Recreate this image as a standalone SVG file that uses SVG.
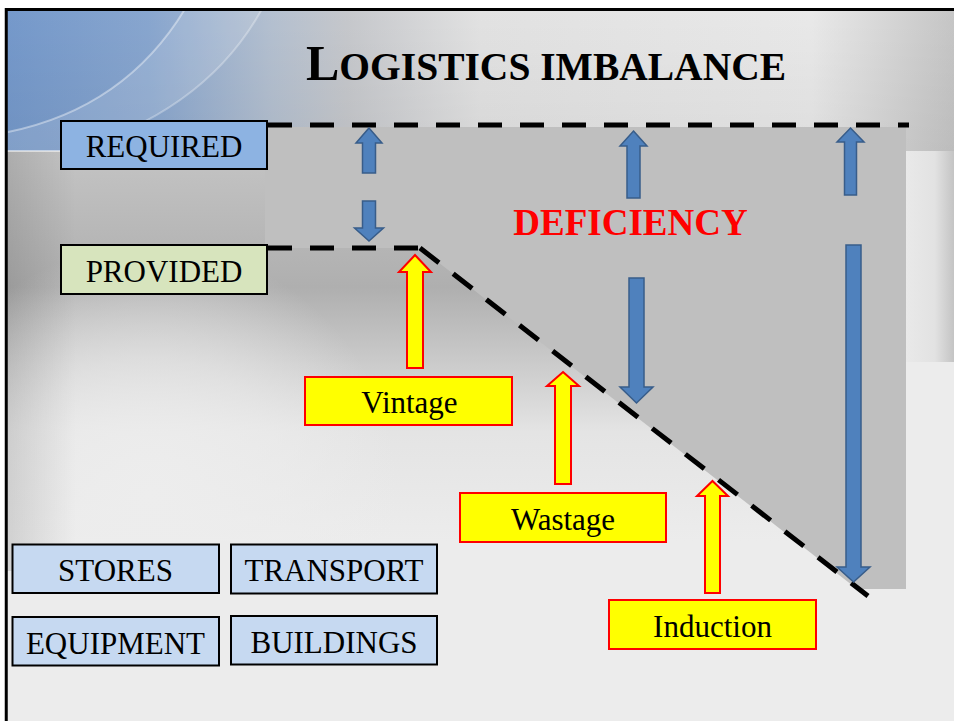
<svg xmlns="http://www.w3.org/2000/svg" width="954" height="721" viewBox="0 0 954 721">
<defs>
<linearGradient id="topBand" x1="0" y1="0" x2="1" y2="0">
<stop offset="0" stop-color="#7599cb"/>
<stop offset="0.15" stop-color="#88a6cf"/>
<stop offset="0.28" stop-color="#b4c0d0"/>
<stop offset="0.36" stop-color="#c6c8cc"/>
<stop offset="0.5" stop-color="#e2e2e2"/>
<stop offset="0.85" stop-color="#e9e9e9"/>
<stop offset="1" stop-color="#c6c6c6"/>
</linearGradient>
<linearGradient id="topShade" x1="0" y1="0" x2="0" y2="1">
<stop offset="0" stop-color="#000" stop-opacity="0"/>
<stop offset="1" stop-color="#000" stop-opacity="0.05"/>
</linearGradient>
<linearGradient id="midBand" x1="0" y1="0" x2="0" y2="1">
<stop offset="0" stop-color="#c4c4c4"/>
<stop offset="0.35" stop-color="#afafaf"/>
<stop offset="0.72" stop-color="#e4e4e4"/>
<stop offset="1" stop-color="#ececec"/>
</linearGradient>
<radialGradient id="glow" cx="150" cy="495" r="250" gradientUnits="userSpaceOnUse">
<stop offset="0" stop-color="#ededed" stop-opacity="1"/>
<stop offset="0.55" stop-color="#ededed" stop-opacity="0.55"/>
<stop offset="1" stop-color="#ededed" stop-opacity="0"/>
</radialGradient>
<linearGradient id="leftEdge" x1="0" y1="0" x2="1" y2="0">
<stop offset="0" stop-color="#000" stop-opacity="0.12"/>
<stop offset="1" stop-color="#000" stop-opacity="0"/>
</linearGradient>
<linearGradient id="rightStrip" x1="0" y1="0" x2="1" y2="0">
<stop offset="0" stop-color="#e9e9e9"/>
<stop offset="0.6" stop-color="#e2e2e2"/>
<stop offset="1" stop-color="#c4c4c4"/>
</linearGradient>
<style>
.lbl{font-family:"Liberation Serif","Times New Roman",serif;font-size:31px;fill:#000;text-anchor:middle}
.box{stroke:#000;stroke-width:2}
.blue{fill:#c6d9f1}
.ybox{fill:#ffff00;stroke:#ff0000;stroke-width:2}
.yarr{fill:#ffff00;stroke:#ff0000;stroke-width:2;stroke-linejoin:miter}
.barr{fill:#4f81bd;stroke:#385d8a;stroke-width:1.5}
.dash{fill:none;stroke:#000;stroke-width:5;stroke-dasharray:24 18}
</style>
</defs>
<g id="background">
<rect x="0" y="0" width="954" height="721" fill="#ffffff"/>
<rect x="6" y="9" width="948" height="712" fill="#ececec"/>
<rect x="6" y="151" width="900" height="390" fill="url(#midBand)"/>
<rect x="6" y="151" width="900" height="390" fill="url(#glow)"/>
<rect x="6" y="151" width="70" height="420" fill="url(#leftEdge)"/>
<rect x="906" y="9" width="48" height="353" fill="url(#rightStrip)"/>
<rect x="6" y="9" width="948" height="142" fill="url(#topBand)"/>
<rect x="6" y="9" width="948" height="142" fill="url(#topShade)"/>
<path d="M 8 132 Q 125 108 185 9 L 262 9 Q 205 112 70 151 L 8 151 Z" fill="#ffffff" fill-opacity="0.12"/>
<path d="M 8 132 Q 125 108 185 9" fill="none" stroke="#ffffff" stroke-opacity="0.4" stroke-width="2"/>
<path d="M 70 151 Q 205 112 262 9" fill="none" stroke="#ffffff" stroke-opacity="0.3" stroke-width="2"/>
<line x1="6" y1="151" x2="265" y2="151" stroke="#ffffff" stroke-opacity="0.7" stroke-width="1.5"/>
<rect x="6.25" y="9.5" width="960" height="720" fill="none" stroke="#000" stroke-width="3"/>
</g>
<g id="deficiency-area">
<polygon points="265,127 906,127 906,589 857,589 420,248 265,248" fill="#bfbfbf"/>
</g>
<g id="title">
<text x="306" y="80" font-family="'Liberation Serif','Times New Roman',serif" font-weight="bold" fill="#000"><tspan font-size="50">L</tspan><tspan font-size="39.5">OGISTICS IMBALANCE</tspan></text>
</g>
<g id="connectors">
<path class="dash" d="M 268 125 L 909 125"/>
<path class="dash" d="M 268 248 L 420 248"/>
<path class="dash" d="M 420 248 L 868 596"/>
<polygon class="barr" points="369,128 382,143 375.5,143 375.5,173 362.5,173 362.5,143 356,143"/>
<polygon class="barr" points="362.5,201 375.5,201 375.5,228 383.5,228 369,241 354.5,228 362.5,228"/>
<polygon class="barr" points="633.5,131 647,146 640,146 640,198 627,198 627,146 620,146"/>
<polygon class="barr" points="629,278 644,278 644,387 653,387 636.5,403 620,387 629,387"/>
<polygon class="barr" points="850.5,128 864,142 856.5,142 856.5,195 844.5,195 844.5,142 837,142"/>
<polygon class="barr" points="846,245 861,245 861,567 870,567 853.5,582 837,567 846,567"/>
<polygon class="yarr" points="415,255 431,272 423,272 423,368 407,368 407,272 399,272"/>
<polygon class="yarr" points="563,372 579,386 571,386 571,484 555,484 555,386 547,386"/>
<polygon class="yarr" points="712.5,481 728,496 720,496 720,593 705,593 705,496 697,496"/>
</g>
<g id="deficiency-label">
<text x="630.5" y="235" font-family="'Liberation Serif','Times New Roman',serif" font-weight="bold" font-size="37" fill="#ff0000" text-anchor="middle">DEFICIENCY</text>
</g>
<g id="node-required">
<rect class="box" x="61" y="121" width="206" height="48" fill="#8db3e2"/>
<text class="lbl" x="164" y="157">REQUIRED</text>
</g>
<g id="node-provided">
<rect class="box" x="61" y="245" width="206" height="49" fill="#d7e4bd"/>
<text class="lbl" x="164" y="282">PROVIDED</text>
</g>
<g id="node-vintage">
<rect class="ybox" x="305" y="377" width="207" height="48"/>
<text class="lbl" x="409.5" y="413">Vintage</text>
</g>
<g id="node-wastage">
<rect class="ybox" x="460" y="493" width="206" height="49"/>
<text class="lbl" x="563" y="530">Wastage</text>
</g>
<g id="node-induction">
<rect class="ybox" x="609" y="600" width="207" height="49"/>
<text class="lbl" x="712.5" y="637">Induction</text>
</g>
<g id="node-stores">
<rect class="box blue" x="12.5" y="544.5" width="206.5" height="48.5"/>
<text class="lbl" x="115.5" y="581">STORES</text>
</g>
<g id="node-transport">
<rect class="box blue" x="231" y="544.5" width="206" height="49"/>
<text class="lbl" x="334" y="581">TRANSPORT</text>
</g>
<g id="node-equipment">
<rect class="box blue" x="12.5" y="617" width="206.5" height="48.5"/>
<text class="lbl" x="115.5" y="654">EQUIPMENT</text>
</g>
<g id="node-buildings">
<rect class="box blue" x="231" y="616" width="206" height="48.5"/>
<text class="lbl" x="334" y="653">BUILDINGS</text>
</g>
</svg>
